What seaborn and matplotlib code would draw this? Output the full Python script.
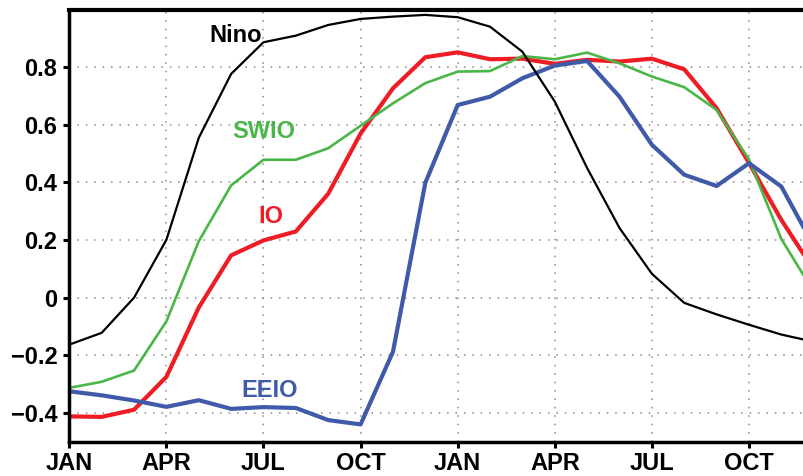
import numpy as np
import pandas as pd
import matplotlib
matplotlib.use("Agg")
import matplotlib.pyplot as plt
import seaborn as sns

months = list(range(24))
nino = [-0.163, -0.122, 0.0, 0.201, 0.555, 0.777, 0.887, 0.910, 0.947, 0.968, 0.976, 0.982,
        0.974, 0.941, 0.854, 0.681, 0.450, 0.242, 0.083, -0.018, -0.058, -0.094, -0.128, -0.153]
swio = [-0.313, -0.292, -0.253, -0.082, 0.196, 0.390, 0.479, 0.479, 0.519, 0.597, 0.675, 0.745,
        0.785, 0.787, 0.839, 0.828, 0.851, 0.814, 0.768, 0.731, 0.652, 0.480, 0.204, 0.020]
io = [-0.412, -0.414, -0.389, -0.275, -0.034, 0.147, 0.199, 0.230, 0.361, 0.570, 0.727, 0.835,
      0.852, 0.828, 0.830, 0.812, 0.826, 0.820, 0.830, 0.793, 0.658, 0.468, 0.270, 0.097]
eeio = [-0.325, -0.339, -0.357, -0.379, -0.356, -0.386, -0.380, -0.383, -0.425, -0.440, -0.188, 0.399,
        0.669, 0.698, 0.762, 0.806, 0.822, 0.698, 0.531, 0.427, 0.388, 0.467, 0.386, 0.180]

xtick_pos = [0, 3, 6, 9, 12, 15, 18, 21]
xtick_labels = ["JAN", "APR", "JUL", "OCT", "JAN", "APR", "JUL", "OCT"]
ytick_pos = [-0.4, -0.2, 0.0, 0.2, 0.4, 0.6, 0.8]
ytick_labels = ["\u22120.4", "\u22120.2", "0", "0.2", "0.4", "0.6", "0.8"]

series_names = ["IO", "SWIO", "EEIO", "Nino"]
series_vals = [io, swio, eeio, nino]
colors = {"Nino": "#000000", "SWIO": "#4bb648", "IO": "#ee1c25", "EEIO": "#3f5aa8"}
widths = {"Nino": 1.6, "SWIO": 1.9, "IO": 3.0, "EEIO": 3.0}
label_pos = {"Nino": (5.15, 0.909), "SWIO": (6.0, 0.576), "IO": (6.23, 0.281), "EEIO": (6.2, -0.323)}

sns.set_theme(style="white")
plt.rcParams['font.family'] = ['Liberation Sans Narrow', 'Liberation Sans', 'DejaVu Sans']

fig = plt.figure(figsize=(8.04, 4.76), dpi=100)
ax = fig.add_axes([0.0862, 0.0721, 1.0 - 0.0862, 0.9075])

for name, vals in zip(series_names, series_vals):
    df = pd.DataFrame({"month": months, "value": vals})
    sns.lineplot(data=df, x="month", y="value", ax=ax, color=colors[name],
                 linewidth=widths[name], legend=False)

for name in ["Nino", "SWIO", "IO", "EEIO"]:
    x, y = label_pos[name]
    ax.text(x, y, name, color=colors[name], fontsize=17, fontweight="bold",
            ha="center", va="center")

ax.set_xlim(0, 22.70)
ax.set_ylim(-0.5, 1.0)
ax.set_xticks(xtick_pos)
ax.set_xticklabels(xtick_labels)
ax.set_yticks(ytick_pos)
ax.set_yticklabels(ytick_labels)
ax.set_xlabel("")
ax.set_ylabel("")

ax.grid(True, color="#888888", linestyle=(0, (1, 4.5)), linewidth=1.1)
ax.set_axisbelow(True)

for s in ["left", "bottom", "top"]:
    ax.spines[s].set_visible(True)
    ax.spines[s].set_color("black")
    ax.spines[s].set_linewidth(2.5)
ax.spines["top"].set_linewidth(3.0)
ax.spines["right"].set_visible(False)

ax.tick_params(axis="both", which="major", direction="out", length=4.5, width=2.2,
               color="black", labelsize=17, labelcolor="black")
ax.tick_params(axis="y", pad=4)
ax.tick_params(axis="x", pad=3)
for lab in ax.get_xticklabels() + ax.get_yticklabels():
    lab.set_fontweight("bold")
ax.tick_params(left=True, bottom=True)

fig.savefig("out.png", dpi=100)
